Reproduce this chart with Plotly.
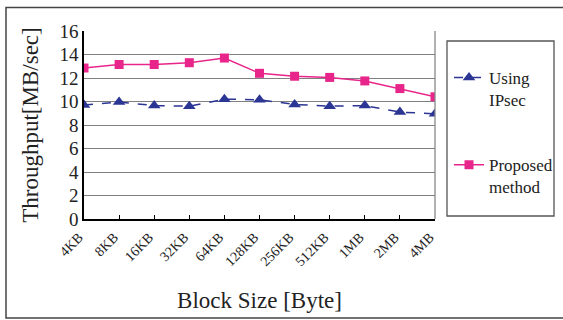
import plotly.graph_objects as go

categories = ["4KB", "8KB", "16KB", "32KB", "64KB", "128KB", "256KB", "512KB", "1MB", "2MB", "4MB"]
ipsec = [9.7, 9.95, 9.65, 9.6, 10.2, 10.15, 9.75, 9.6, 9.65, 9.1, 8.95]
proposed = [12.85, 13.15, 13.15, 13.3, 13.7, 12.4, 12.15, 12.05, 11.75, 11.1, 10.4]
y_ticks = [0, 2, 4, 6, 8, 10, 12, 14, 16]

W, H = 563, 320
L, R, T, B = 84, 128, 31, 101
pw, ph = W - L - R, H - T - B

def px(x):
    return (x - L) / pw

def py(y):
    return (H - B - y) / ph

fig = go.Figure()
fig.add_trace(go.Scatter(
    x=list(range(len(categories))), y=ipsec, name="Using<br>IPsec",
    legendgroup="g1",
    mode="lines+markers",
    line=dict(color="#2b3594", width=1.5, dash="dash"),
    marker=dict(symbol="triangle-up", size=11, color="#2b3594"),
))
fig.add_trace(go.Scatter(
    x=list(range(len(categories))), y=proposed, name="Proposed<br>method",
    legendgroup="g2",
    mode="lines+markers",
    line=dict(color="#e8258a", width=1.5),
    marker=dict(symbol="square", size=9, color="#e8258a"),
))

serif = "Liberation Serif"

fig.update_layout(
    width=W, height=H,
    margin=dict(l=L, r=R, t=T, b=B, autoexpand=False),
    paper_bgcolor="white", plot_bgcolor="white",
    font=dict(family=serif, color="#222"),
    showlegend=True,
    legend=dict(
        x=px(449), y=py(60), xanchor="left", yanchor="top",
        font=dict(family=serif, size=17, color="#222"),
        bgcolor="rgba(0,0,0,0)", borderwidth=0,
        tracegroupgap=40, valign="top", itemwidth=30,
    ),
    xaxis=dict(
        range=[0, len(categories) - 1], automargin=False,
        tickmode="array", tickvals=list(range(len(categories))), ticktext=categories,
        tickangle=-45, tickfont=dict(family=serif, size=14, color="#222"),
        ticks="inside", ticklen=4, tickcolor="#000",
        ticklabelshift=-5, ticklabelstandoff=3,
        showline=True, linecolor="#000", linewidth=1.5,
        showgrid=False, zeroline=False,
        title=dict(text="Block Size [Byte]", font=dict(family=serif, size=23, color="#222"), standoff=24),
    ),
    yaxis=dict(
        range=[0, 16], tickmode="array", tickvals=y_ticks, automargin=False,
        tickfont=dict(family=serif, size=19, color="#222"),
        showline=True, linecolor="#000", linewidth=1.5,
        showgrid=True, gridcolor="#808080", gridwidth=1.3,
        zeroline=False, ticks="",
        title=dict(text="Throughput[MB/sec]", font=dict(family=serif, size=23, color="#222"), standoff=14),
    ),
    shapes=[
        dict(type="line", xref="paper", yref="paper", x0=1, x1=1, y0=0, y1=1,
             line=dict(color="#888", width=1.3)),
        dict(type="rect", xref="paper", yref="paper",
             x0=px(447), x1=px(554), y0=py(41), y1=py(216),
             line=dict(color="#555", width=1.3)),
        dict(type="rect", xref="paper", yref="paper",
             x0=px(6), x1=px(566), y0=py(7.5), y1=py(318),
             line=dict(color="#444", width=1.5)),
    ],
)

fig.write_html("out.html", config={"displayModeBar": False},
               post_script="document.body.style.margin='0';")
